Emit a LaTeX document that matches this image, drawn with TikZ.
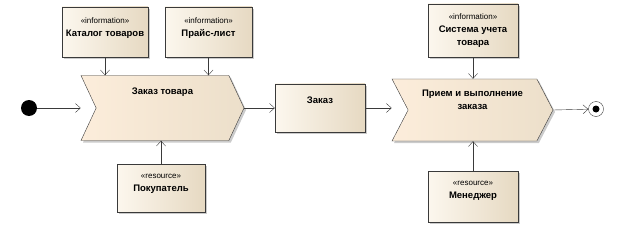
\documentclass[tikz,border=0pt]{standalone}
\usepackage{fontspec}
\setmainfont{Liberation Sans}
\usetikzlibrary{arrows.meta,positioning,calc,shapes.symbols,shadows}

\definecolor{boxlight}{HTML}{FCF7EE}
\definecolor{boxdark}{HTML}{E6D9C2}
\definecolor{proclight}{HTML}{FCEDDB}
\definecolor{procdark}{HTML}{ECDFCA}
\definecolor{edgegray}{HTML}{3A3A3A}

\tikzset{
  softshadow/.style={drop shadow={shadow xshift=2pt, shadow yshift=-2pt, fill=black!45, opacity=.45}},
  umlbox/.style={draw=edgegray, left color=boxlight, right color=boxdark, softshadow, inner sep=0pt},
  umlproc/.style={signal, signal to=east, signal from=west, draw=edgegray,
    left color=proclight, right color=procdark, softshadow, inner sep=0pt},
  boxtext/.style={anchor=north, inner sep=0pt, align=center,
    font=\fontsize{9.5}{13}\selectfont\bfseries},
  flow/.style={draw=edgegray, -{Straight Barb[length=5pt,width=9pt]}}
}
\newcommand{\stereo}[1]{{\fontsize{8}{9}\selectfont\mdseries«#1»}}

\begin{document}
\begin{tikzpicture}[x=1pt, y=-1pt]
  \useasboundingbox (0,0) rectangle (617,235);
  % start and end points
  \node[circle, fill=black, minimum size=16pt, inner sep=0pt] (start) at (29,108) {};
  \node[circle, draw=edgegray, fill=white, minimum size=15pt, inner sep=0pt,
    path picture={\fill[black] (path picture bounding box.center) circle (3.5pt);}] (finish) at (596,109) {};
  % first step and its inputs
  \node[umlproc, minimum width=163pt, minimum height=65pt, signal pointer angle=130,
    label={[boxtext, yshift=-12.5pt]north:{Заказ товара}}] (order) at (162.5,108) {};
  \node[umlbox, minimum width=86pt, minimum height=50pt,
    label={[boxtext, yshift=-10.5pt]north:{\stereo{information}\\Каталог товаров}}] (catalog) at (105,32) {};
  \node[umlbox, minimum width=87pt, minimum height=50pt,
    label={[boxtext, yshift=-10.5pt]north:{\stereo{information}\\Прайс-лист}}] (pricelist) at (208.5,32) {};
  \node[umlbox, minimum width=88pt, minimum height=48pt,
    label={[boxtext, yshift=-10.5pt]north:{\stereo{resource}\\Покупатель}}] (buyer) at (161,188) {};
  % object between the steps
  \node[umlbox, minimum width=90pt, minimum height=48pt,
    label={[boxtext, yshift=-12.5pt]north:{Заказ}}] (orderobj) at (320,108) {};
  % second step and its inputs
  \node[umlproc, minimum width=161pt, minimum height=62pt, signal pointer angle=125,
    label={[boxtext, yshift=-11pt]north:{Прием и выполнение\\заказа}}] (fulfil) at (472.5,110) {};
  \node[umlbox, minimum width=90pt, minimum height=53pt,
    label={[boxtext, yshift=-9.5pt]north:{\stereo{information}\\Система учета\\товара}}] (stock) at (473,30.5) {};
  \node[umlbox, minimum width=90pt, minimum height=51pt,
    label={[boxtext, yshift=-10.5pt]north:{\stereo{resource}\\Менеджер}}] (manager) at (473,196.5) {};
  % connectors
  \draw[flow] (start) -- (start -| order.north west);
  \draw[flow] (catalog) -- (catalog |- order.north);
  \draw[flow] (pricelist) -- (pricelist |- order.north);
  \draw[flow] (buyer) -- (buyer |- order.south);
  \draw[flow] (order.east) -- (orderobj);
  \draw[flow] (orderobj.east) -- (orderobj.east -| fulfil.north west);
  \draw[flow] (stock) -- (stock |- fulfil.north);
  \draw[flow] (manager) -- (manager |- fulfil.south);
  \draw[flow] (fulfil.east) -- (finish);
\end{tikzpicture}
\end{document}
